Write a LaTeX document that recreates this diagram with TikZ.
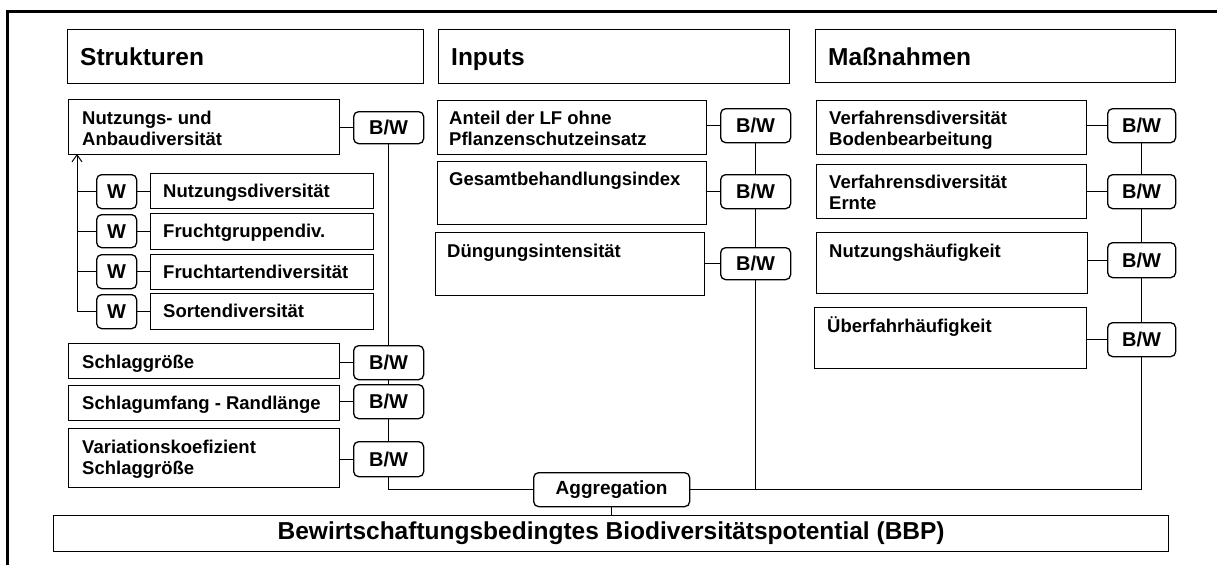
\documentclass[tikz,border=0pt]{standalone}
\usepackage{fontspec}
\setmainfont{Liberation Sans}
\usetikzlibrary{arrows.meta}
\newcommand\twoln[2]{\vtop{\hbox{#1}\hbox{#2}}}
\begin{document}
\begin{tikzpicture}[x=1pt,y=-1pt,
  box/.style={draw=black, line width=1.3pt, fill=white, inner sep=0pt, anchor=north west},
  bwbox/.style={draw=black, line width=1.3pt, fill=white, rounded corners=5pt, inner sep=0pt, anchor=north west, font=\bfseries\fontsize{20}{22}\selectfont},
  itxt/.style={anchor=base west, inner sep=0pt, font=\bfseries\fontsize{18.5}{21}\selectfont},
  htxt/.style={anchor=base west, inner sep=0pt, font=\bfseries\fontsize{24.5}{28}\selectfont},
  conn/.style={line width=1pt, draw=black}]
\useasboundingbox (0,0) rectangle (1217,565);
% outer frame
\draw[line width=3.5pt] (7.5,565) -- (7.5,11.5) -- (1217,11.5);

% headers
\node[box, minimum width=356, minimum height=54] (hS) at (67,29) {};
\node[htxt] (hSt) at (80,65) {Strukturen};
\node[box, minimum width=351, minimum height=54] (hI) at (438,29) {};
\node[htxt] (hIt) at (451,65) {Inputs};
\node[box, minimum width=360, minimum height=53] (hM) at (815,29) {};
\node[htxt] (hMt) at (828,65) {Maßnahmen};

% Strukturen
\node[box, minimum width=271, minimum height=55] (n1) at (68,99) {};
\node[itxt] (n1t) at (82,124) {\twoln{Nutzungs- und}{Anbaudiversität}};
\node[bwbox, minimum width=70, minimum height=32] (bw1) at (353,111) {B/W};

\node[box, minimum width=223, minimum height=35] (t1) at (150,173) {};
\node[itxt] (t1t) at (163,197) {Nutzungsdiversität};
\node[bwbox, minimum width=40, minimum height=34] (w1) at (96,174) {W};
\node[box, minimum width=223, minimum height=36] (t2) at (150,213) {};
\node[itxt] (t2t) at (163,237.5) {Fruchtgruppendiv.};
\node[bwbox, minimum width=40, minimum height=33] (w2) at (96,214) {W};
\node[box, minimum width=223, minimum height=35] (t3) at (150,254) {};
\node[itxt] (t3t) at (163,278) {Fruchtartendiversität};
\node[bwbox, minimum width=40, minimum height=34] (w3) at (96,254) {W};
\node[box, minimum width=223, minimum height=36] (t4) at (150,293) {};
\node[itxt] (t4t) at (163,317.5) {Sortendiversität};
\node[bwbox, minimum width=40, minimum height=34] (w4) at (96,294) {W};

\node[box, minimum width=271, minimum height=35] (s1) at (68,343) {};
\node[itxt] (s1t) at (82,368) {Schlaggröße};
\node[bwbox, minimum width=70, minimum height=34] (bws1) at (353,345) {B/W};
\node[box, minimum width=271, minimum height=35] (s2) at (68,385) {};
\node[itxt] (s2t) at (82,409) {Schlagumfang - Randlänge};
\node[bwbox, minimum width=70, minimum height=34] (bws2) at (353,384) {B/W};
\node[box, minimum width=271, minimum height=59] (s3) at (68,428) {};
\node[itxt] (s3t) at (82,453) {\twoln{Variationskoefizient}{Schlaggröße}};
\node[bwbox, minimum width=70, minimum height=35] (bws3) at (353,441) {B/W};

% Inputs
\node[box, minimum width=269, minimum height=54] (a1) at (437,100) {};
\node[itxt] (a1t) at (449,124) {\twoln{Anteil der LF ohne}{Pflanzenschutzeinsatz}};
\node[bwbox, minimum width=70, minimum height=34] (bwi1) at (720,108) {B/W};
\node[box, minimum width=269, minimum height=63] (a2) at (437,161) {};
\node[itxt] (a2t) at (449,185) {Gesamtbehandlungsindex};
\node[bwbox, minimum width=70, minimum height=34] (bwi2) at (720,174) {B/W};
\node[box, minimum width=269, minimum height=63] (a3) at (435,232) {};
\node[itxt] (a3t) at (447,257) {Düngungsintensität};
\node[bwbox, minimum width=70, minimum height=32] (bwi3) at (720,247) {B/W};

% Massnahmen
\node[box, minimum width=270, minimum height=54] (m1) at (816,100) {};
\node[itxt] (m1t) at (829,124) {\twoln{Verfahrensdiversität}{Bodenbearbeitung}};
\node[bwbox, minimum width=68, minimum height=34] (bwm1) at (1107,108) {B/W};
\node[box, minimum width=270, minimum height=54] (m2) at (816,164) {};
\node[itxt] (m2t) at (829,188) {\twoln{Verfahrensdiversität}{Ernte}};
\node[bwbox, minimum width=68, minimum height=34] (bwm2) at (1107,174) {B/W};
\node[box, minimum width=271, minimum height=61] (m3) at (816,232) {};
\node[itxt] (m3t) at (829,257) {Nutzungshäufigkeit};
\node[bwbox, minimum width=68, minimum height=35] (bwm3) at (1107,242) {B/W};
\node[box, minimum width=272, minimum height=61] (m4) at (814,307) {};
\node[itxt] (m4t) at (827,332) {Überfahrhäufigkeit};
\node[bwbox, minimum width=68, minimum height=34] (bwm4) at (1107,322) {B/W};

% aggregation and result
\node[bwbox, minimum width=156, minimum height=34, font=\bfseries\fontsize{19}{22}\selectfont] (agg) at (533,472) {Aggregation};
\node[box, minimum width=1115, minimum height=36, font=\bfseries\fontsize{24.5}{28}\selectfont] (bbp) at (53,515) {Bewirtschaftungsbedingtes Biodiversitätspotential (BBP)};

% connectors Strukturen
\coordinate (wtop) at (77,154);
\draw[conn] (n1.east |- bw1.west) -- (bw1.west);
\draw[conn] (bw1.south) -- (bws1.north);
\draw[conn] (bws1.south) -- (bws2.north);
\draw[conn] (bws2.south) -- (bws3.north);
\draw[conn] (bws3.south) |- (agg.west);
\draw[conn] (s1.east |- bws1.west) -- (bws1.west);
\draw[conn] (s2.east |- bws2.west) -- (bws2.west);
\draw[conn] (s3.east |- bws3.west) -- (bws3.west);
\draw[conn, -{Straight Barb[length=7pt,width=10pt]}] (w4.west) -| (wtop);
\draw[conn] (w1.west) -- (w1.west -| wtop);
\draw[conn] (w2.west) -- (w2.west -| wtop);
\draw[conn] (w3.west) -- (w3.west -| wtop);
\draw[conn] (w1.east) -- (w1.east -| t1.west);
\draw[conn] (w2.east) -- (w2.east -| t2.west);
\draw[conn] (w3.east) -- (w3.east -| t3.west);
\draw[conn] (w4.east) -- (w4.east -| t4.west);

% connectors Inputs
\draw[conn] (a1.east |- bwi1.west) -- (bwi1.west);
\draw[conn] (a2.east |- bwi2.west) -- (bwi2.west);
\draw[conn] (a3.east |- bwi3.west) -- (bwi3.west);
\draw[conn] (bwi1.south) -- (bwi2.north);
\draw[conn] (bwi2.south) -- (bwi3.north);
\draw[conn] (bwi3.south) -- (bwi3.south |- agg.east);

% connectors Massnahmen
\draw[conn] (m1.east |- bwm1.west) -- (bwm1.west);
\draw[conn] (m2.east |- bwm2.west) -- (bwm2.west);
\draw[conn] (m3.east |- bwm3.west) -- (bwm3.west);
\draw[conn] (m4.east |- bwm4.west) -- (bwm4.west);
\draw[conn] (bwm1.south) -- (bwm2.north);
\draw[conn] (bwm2.south) -- (bwm3.north);
\draw[conn] (bwm3.south) -- (bwm4.north);
\draw[conn] (agg.east) -| (bwm4.south);

% to result
\draw[conn] (agg.south) -- (agg.south |- bbp.north);
\end{tikzpicture}
\end{document}
